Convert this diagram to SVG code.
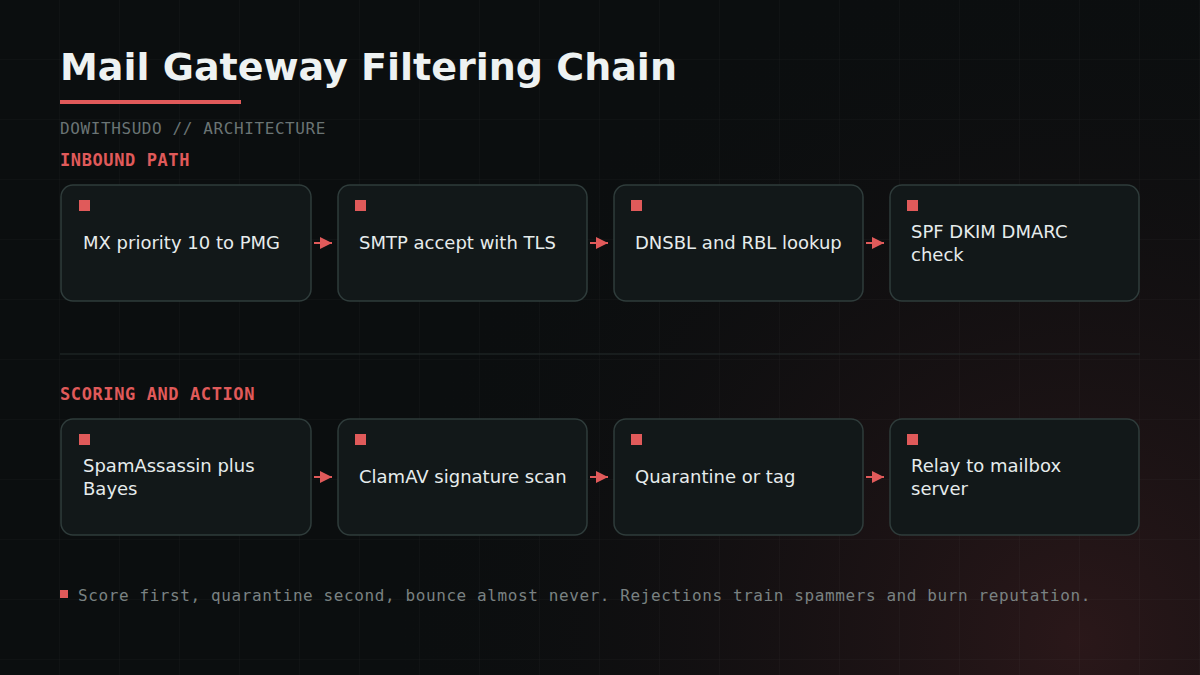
<svg xmlns="http://www.w3.org/2000/svg" width="1200" height="675" viewBox="0 0 1200 675">
<defs>
<radialGradient id="glow" cx="1080" cy="640" r="700" gradientUnits="userSpaceOnUse">
<stop offset="0" stop-color="#2c181a" stop-opacity="0.95"/>
<stop offset="0.5" stop-color="#1b1214" stop-opacity="0.55"/>
<stop offset="1" stop-color="#0b0e0f" stop-opacity="0"/>
</radialGradient>
<pattern id="grid" width="60" height="60" patternUnits="userSpaceOnUse">
<path d="M60 0V60M0 60H60" fill="none" stroke="#ffffff" stroke-opacity="0.035" stroke-width="1"/>
</pattern>
<marker id="ah" viewBox="0 0 10 10" refX="10" refY="5" markerWidth="12" markerHeight="12" markerUnits="userSpaceOnUse" orient="auto">
<path d="M0 0L10 5L0 10Z" fill="#e05a5a"/>
</marker>
</defs>
<style>
.title{font-family:"DejaVu Sans",sans-serif;font-weight:bold;font-size:38px;fill:#eef2f2}
.sub{font-family:"DejaVu Sans Mono",monospace;font-size:16px;letter-spacing:0.6px;fill:#6a7474}
.sec{font-family:"DejaVu Sans Mono",monospace;font-weight:bold;font-size:17px;letter-spacing:0.6px;fill:#e05a5a}
.box{fill:#121819;stroke:#2f3c3b;stroke-width:1.5}
.mk{fill:#e05a5a}
.lbl{font-family:"DejaVu Sans",sans-serif;font-size:18px;fill:#e6ecec}
.foot{font-family:"DejaVu Sans Mono",monospace;font-size:16px;letter-spacing:0.6px;fill:#7a8282}
.conn{stroke:#e05a5a;stroke-width:2;fill:none}
</style>
<rect width="1200" height="675" fill="#0b0e0f"/>
<rect width="1200" height="675" fill="url(#glow)"/>
<rect width="1200" height="675" fill="url(#grid)"/>

<text class="title" x="60" y="80">Mail Gateway Filtering Chain</text>
<rect x="60" y="100" width="181" height="4" fill="#e05a5a"/>
<text class="sub" x="60" y="134">DOWITHSUDO // ARCHITECTURE</text>
<text class="sec" x="60" y="166">INBOUND PATH</text>

<g id="n1"><rect class="box" x="61" y="185" width="250" height="116" rx="12"/><rect class="mk" x="79" y="200" width="11" height="11"/><text class="lbl" x="83" y="249">MX priority 10 to PMG</text></g>
<g id="n2"><rect class="box" x="338" y="185" width="249" height="116" rx="12"/><rect class="mk" x="355" y="200" width="11" height="11"/><text class="lbl" x="359" y="249">SMTP accept with TLS</text></g>
<g id="n3"><rect class="box" x="614" y="185" width="249" height="116" rx="12"/><rect class="mk" x="631" y="200" width="11" height="11"/><text class="lbl" x="635" y="249">DNSBL and RBL lookup</text></g>
<g id="n4"><rect class="box" x="890" y="185" width="249" height="116" rx="12"/><rect class="mk" x="907" y="200" width="11" height="11"/><text class="lbl" x="911" y="238">SPF DKIM DMARC</text><text class="lbl" x="911" y="261">check</text></g>

<line x1="60" y1="354" x2="1140" y2="354" stroke="#252c2c" stroke-width="1"/>
<text class="sec" x="60" y="400">SCORING AND ACTION</text>

<g id="n5"><rect class="box" x="61" y="419" width="250" height="116" rx="12"/><rect class="mk" x="79" y="434" width="11" height="11"/><text class="lbl" x="83" y="472">SpamAssassin plus</text><text class="lbl" x="83" y="495">Bayes</text></g>
<g id="n6"><rect class="box" x="338" y="419" width="249" height="116" rx="12"/><rect class="mk" x="355" y="434" width="11" height="11"/><text class="lbl" x="359" y="483">ClamAV signature scan</text></g>
<g id="n7"><rect class="box" x="614" y="419" width="249" height="116" rx="12"/><rect class="mk" x="631" y="434" width="11" height="11"/><text class="lbl" x="635" y="483">Quarantine or tag</text></g>
<g id="n8"><rect class="box" x="890" y="419" width="249" height="116" rx="12"/><rect class="mk" x="907" y="434" width="11" height="11"/><text class="lbl" x="911" y="472">Relay to mailbox</text><text class="lbl" x="911" y="495">server</text></g>

<g id="connectors">
<line class="conn" x1="314" y1="243" x2="332" y2="243" marker-end="url(#ah)"/>
<line class="conn" x1="590" y1="243" x2="608" y2="243" marker-end="url(#ah)"/>
<line class="conn" x1="866" y1="243" x2="884" y2="243" marker-end="url(#ah)"/>
<line class="conn" x1="314" y1="477" x2="332" y2="477" marker-end="url(#ah)"/>
<line class="conn" x1="590" y1="477" x2="608" y2="477" marker-end="url(#ah)"/>
<line class="conn" x1="866" y1="477" x2="884" y2="477" marker-end="url(#ah)"/>
</g>

<rect class="mk" x="60" y="590" width="8" height="8"/>
<text class="foot" x="78" y="601">Score first, quarantine second, bounce almost never. Rejections train spammers and burn reputation.</text>
</svg>
